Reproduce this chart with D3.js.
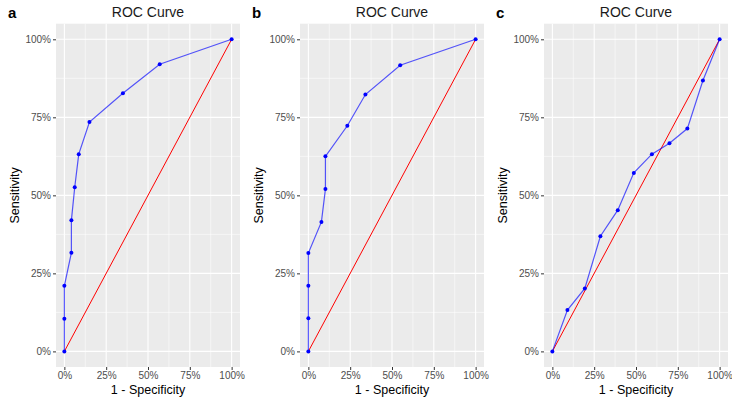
<!DOCTYPE html>
<html>
<head>
<meta charset="utf-8">
<script src="https://cdn.jsdelivr.net/npm/d3@7"></script>
<style>
  body { margin: 0; background: #fff; }
  text { font-family: "Liberation Sans", Arial, sans-serif; }
</style>
</head>
<body>
<svg id="chart" width="732" height="399"></svg>
<script>
// ROC points per panel (1 - specificity, sensitivity)
const fprA = [0, 0, 0, 0.042, 0.042, 0.062, 0.086, 0.15, 0.35, 0.57, 1];
const tprA = [0, 0.105, 0.21, 0.316, 0.42, 0.526, 0.632, 0.735, 0.827, 0.92, 1];

const fprB = [0, 0, 0, 0, 0.078, 0.102, 0.102, 0.233, 0.341, 0.549, 1];
const tprB = [0, 0.106, 0.21, 0.315, 0.415, 0.52, 0.625, 0.723, 0.823, 0.917, 1];

const fprC = [0, 0.09, 0.194, 0.287, 0.391, 0.487, 0.595, 0.70, 0.807, 0.90, 1];
const tprC = [0, 0.1325, 0.2017, 0.369, 0.4526, 0.572, 0.632, 0.667, 0.714, 0.868, 1];

const panelLetters = ["a", "b", "c"];
const panelTitle = "ROC Curve";
const tickValues = [0, 0.25, 0.5, 0.75, 1];
const tickLabels = ["0%", "25%", "50%", "75%", "100%"];

const panels = [
  { letter: panelLetters[0], fpr: fprA, tpr: tprA, left: 56 },
  { letter: panelLetters[1], fpr: fprB, tpr: tprB, left: 300 },
  { letter: panelLetters[2], fpr: fprC, tpr: tprC, left: 544 }
];

const svg = d3.select("#chart");
const pw = 184, panelTop = 23.7, ph = 343.3;

panels.forEach((p, i) => {
  const x = d3.scaleLinear().domain([-0.05, 1.05]).range([p.left, p.left + pw]);
  const y = d3.scaleLinear().domain([-0.05, 1.05]).range([panelTop + ph, panelTop]);
  const g = svg.append("g");

  // panel letter
  svg.append("text")
    .attr("x", p.left - 48).attr("y", 18)
    .attr("font-size", 15).attr("font-weight", "bold")
    .attr("fill", "#000")
    .text(p.letter);

  // title
  svg.append("text")
    .attr("x", p.left + pw / 2).attr("y", 17)
    .attr("text-anchor", "middle")
    .attr("font-size", 14).attr("fill", "#1a1a1a")
    .text(panelTitle);

  // background
  g.append("rect")
    .attr("x", p.left).attr("y", panelTop)
    .attr("width", pw).attr("height", ph)
    .attr("fill", "#ebebeb");

  // minor grid
  const minor = [0.125, 0.375, 0.625, 0.875];
  minor.forEach(v => {
    g.append("line").attr("x1", x(v)).attr("x2", x(v)).attr("y1", panelTop).attr("y2", panelTop + ph)
      .attr("stroke", "#fff").attr("stroke-width", 0.55);
    g.append("line").attr("y1", y(v)).attr("y2", y(v)).attr("x1", p.left).attr("x2", p.left + pw)
      .attr("stroke", "#fff").attr("stroke-width", 0.55);
  });
  // major grid
  tickValues.forEach(v => {
    g.append("line").attr("x1", x(v)).attr("x2", x(v)).attr("y1", panelTop).attr("y2", panelTop + ph)
      .attr("stroke", "#fff").attr("stroke-width", 1.1);
    g.append("line").attr("y1", y(v)).attr("y2", y(v)).attr("x1", p.left).attr("x2", p.left + pw)
      .attr("stroke", "#fff").attr("stroke-width", 1.1);
  });

  // axes
  const xAxis = d3.axisBottom(x).tickValues(tickValues)
    .tickFormat((d, k) => tickLabels[k]).tickSize(3).tickPadding(2);
  const yAxis = d3.axisLeft(y).tickValues(tickValues)
    .tickFormat((d, k) => tickLabels[k]).tickSize(3).tickPadding(2);

  const gx = g.append("g").attr("transform", `translate(0,${panelTop + ph})`).call(xAxis);
  const gy = g.append("g").attr("transform", `translate(${p.left},0)`).call(yAxis);
  [gx, gy].forEach(a => {
    a.select(".domain").remove();
    a.selectAll("line").attr("stroke", "#333");
    a.selectAll("text").attr("fill", "#4d4d4d").attr("font-size", 10)
      .attr("font-family", "Liberation Sans, Arial, sans-serif");
  });

  // axis titles
  svg.append("text")
    .attr("x", p.left + pw / 2).attr("y", 394)
    .attr("text-anchor", "middle").attr("font-size", 12.5).attr("fill", "#000")
    .text("1 - Specificity");
  svg.append("text")
    .attr("transform", `translate(${p.left - 37},${panelTop + ph / 2}) rotate(-90)`)
    .attr("text-anchor", "middle").attr("font-size", 12.5).attr("fill", "#000")
    .text("Sensitivity");

  // diagonal reference
  g.append("line")
    .attr("x1", x(0)).attr("y1", y(0)).attr("x2", x(1)).attr("y2", y(1))
    .attr("stroke", "red").attr("stroke-width", 1);

  // ROC curve
  const pts = p.fpr.map((f, k) => [f, p.tpr[k]]);
  g.append("path")
    .datum(pts)
    .attr("d", d3.line().x(d => x(d[0])).y(d => y(d[1])))
    .attr("fill", "none").attr("stroke", "blue")
    .attr("stroke-opacity", 0.65).attr("stroke-width", 1.2);

  g.selectAll("circle.pt").data(pts).enter().append("circle")
    .attr("class", "pt")
    .attr("cx", d => x(d[0])).attr("cy", d => y(d[1]))
    .attr("r", 2).attr("fill", "blue");
});
</script>
</body>
</html>
